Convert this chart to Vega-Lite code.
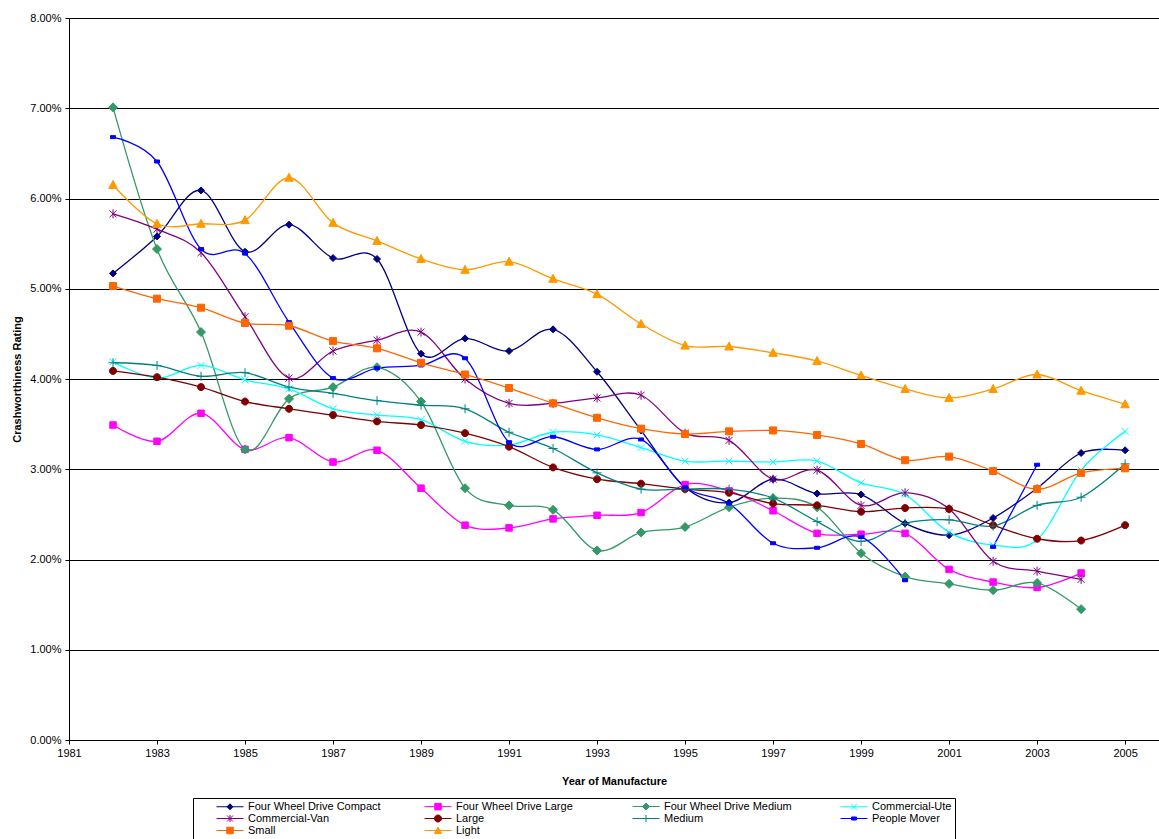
{
  "$schema": "https://vega.github.io/schema/vega-lite/v6.json",
  "width": 1090,
  "height": 722,
  "autosize": {"type": "none"},
  "padding": {"left": 69, "top": 18, "right": 0, "bottom": 99},
  "background": "white",
  "datasets": {
    "crash": [
      {"series":"Four Wheel Drive Compact","year":1982,"rating":0.0517},
      {"series":"Four Wheel Drive Compact","year":1983,"rating":0.0558},
      {"series":"Four Wheel Drive Compact","year":1984,"rating":0.0609},
      {"series":"Four Wheel Drive Compact","year":1985,"rating":0.0541},
      {"series":"Four Wheel Drive Compact","year":1986,"rating":0.0571},
      {"series":"Four Wheel Drive Compact","year":1987,"rating":0.0534},
      {"series":"Four Wheel Drive Compact","year":1988,"rating":0.0533},
      {"series":"Four Wheel Drive Compact","year":1989,"rating":0.0428},
      {"series":"Four Wheel Drive Compact","year":1990,"rating":0.0445},
      {"series":"Four Wheel Drive Compact","year":1991,"rating":0.0431},
      {"series":"Four Wheel Drive Compact","year":1992,"rating":0.0455},
      {"series":"Four Wheel Drive Compact","year":1993,"rating":0.0408},
      {"series":"Four Wheel Drive Compact","year":1994,"rating":0.0343},
      {"series":"Four Wheel Drive Compact","year":1995,"rating":0.0280},
      {"series":"Four Wheel Drive Compact","year":1996,"rating":0.0263},
      {"series":"Four Wheel Drive Compact","year":1997,"rating":0.0289},
      {"series":"Four Wheel Drive Compact","year":1998,"rating":0.0273},
      {"series":"Four Wheel Drive Compact","year":1999,"rating":0.0272},
      {"series":"Four Wheel Drive Compact","year":2000,"rating":0.0240},
      {"series":"Four Wheel Drive Compact","year":2001,"rating":0.0227},
      {"series":"Four Wheel Drive Compact","year":2002,"rating":0.0246},
      {"series":"Four Wheel Drive Compact","year":2003,"rating":0.0279},
      {"series":"Four Wheel Drive Compact","year":2004,"rating":0.0318},
      {"series":"Four Wheel Drive Compact","year":2005,"rating":0.0321},

      {"series":"Four Wheel Drive Large","year":1982,"rating":0.0349},
      {"series":"Four Wheel Drive Large","year":1983,"rating":0.0331},
      {"series":"Four Wheel Drive Large","year":1984,"rating":0.0362},
      {"series":"Four Wheel Drive Large","year":1985,"rating":0.0322},
      {"series":"Four Wheel Drive Large","year":1986,"rating":0.0335},
      {"series":"Four Wheel Drive Large","year":1987,"rating":0.0308},
      {"series":"Four Wheel Drive Large","year":1988,"rating":0.0321},
      {"series":"Four Wheel Drive Large","year":1989,"rating":0.0279},
      {"series":"Four Wheel Drive Large","year":1990,"rating":0.0238},
      {"series":"Four Wheel Drive Large","year":1991,"rating":0.0235},
      {"series":"Four Wheel Drive Large","year":1992,"rating":0.0245},
      {"series":"Four Wheel Drive Large","year":1993,"rating":0.0249},
      {"series":"Four Wheel Drive Large","year":1994,"rating":0.0252},
      {"series":"Four Wheel Drive Large","year":1995,"rating":0.0283},
      {"series":"Four Wheel Drive Large","year":1996,"rating":0.0276},
      {"series":"Four Wheel Drive Large","year":1997,"rating":0.0254},
      {"series":"Four Wheel Drive Large","year":1998,"rating":0.0229},
      {"series":"Four Wheel Drive Large","year":1999,"rating":0.0228},
      {"series":"Four Wheel Drive Large","year":2000,"rating":0.0229},
      {"series":"Four Wheel Drive Large","year":2001,"rating":0.0189},
      {"series":"Four Wheel Drive Large","year":2002,"rating":0.0175},
      {"series":"Four Wheel Drive Large","year":2003,"rating":0.0169},
      {"series":"Four Wheel Drive Large","year":2004,"rating":0.0185},

      {"series":"Four Wheel Drive Medium","year":1982,"rating":0.0701},
      {"series":"Four Wheel Drive Medium","year":1983,"rating":0.0544},
      {"series":"Four Wheel Drive Medium","year":1984,"rating":0.0452},
      {"series":"Four Wheel Drive Medium","year":1985,"rating":0.0322},
      {"series":"Four Wheel Drive Medium","year":1986,"rating":0.0378},
      {"series":"Four Wheel Drive Medium","year":1987,"rating":0.0391},
      {"series":"Four Wheel Drive Medium","year":1988,"rating":0.0413},
      {"series":"Four Wheel Drive Medium","year":1989,"rating":0.0375},
      {"series":"Four Wheel Drive Medium","year":1990,"rating":0.0279},
      {"series":"Four Wheel Drive Medium","year":1991,"rating":0.0260},
      {"series":"Four Wheel Drive Medium","year":1992,"rating":0.0255},
      {"series":"Four Wheel Drive Medium","year":1993,"rating":0.0210},
      {"series":"Four Wheel Drive Medium","year":1994,"rating":0.0230},
      {"series":"Four Wheel Drive Medium","year":1995,"rating":0.0236},
      {"series":"Four Wheel Drive Medium","year":1996,"rating":0.0258},
      {"series":"Four Wheel Drive Medium","year":1997,"rating":0.0268},
      {"series":"Four Wheel Drive Medium","year":1998,"rating":0.0258},
      {"series":"Four Wheel Drive Medium","year":1999,"rating":0.0207},
      {"series":"Four Wheel Drive Medium","year":2000,"rating":0.0181},
      {"series":"Four Wheel Drive Medium","year":2001,"rating":0.0173},
      {"series":"Four Wheel Drive Medium","year":2002,"rating":0.0166},
      {"series":"Four Wheel Drive Medium","year":2003,"rating":0.0174},
      {"series":"Four Wheel Drive Medium","year":2004,"rating":0.0145},

      {"series":"Commercial-Ute","year":1982,"rating":0.0419},
      {"series":"Commercial-Ute","year":1983,"rating":0.0401},
      {"series":"Commercial-Ute","year":1984,"rating":0.0415},
      {"series":"Commercial-Ute","year":1985,"rating":0.0399},
      {"series":"Commercial-Ute","year":1986,"rating":0.0389},
      {"series":"Commercial-Ute","year":1987,"rating":0.0367},
      {"series":"Commercial-Ute","year":1988,"rating":0.0360},
      {"series":"Commercial-Ute","year":1989,"rating":0.0355},
      {"series":"Commercial-Ute","year":1990,"rating":0.0331},
      {"series":"Commercial-Ute","year":1991,"rating":0.0327},
      {"series":"Commercial-Ute","year":1992,"rating":0.0341},
      {"series":"Commercial-Ute","year":1993,"rating":0.0338},
      {"series":"Commercial-Ute","year":1994,"rating":0.0324},
      {"series":"Commercial-Ute","year":1995,"rating":0.0309},
      {"series":"Commercial-Ute","year":1996,"rating":0.0309},
      {"series":"Commercial-Ute","year":1997,"rating":0.0308},
      {"series":"Commercial-Ute","year":1998,"rating":0.0309},
      {"series":"Commercial-Ute","year":1999,"rating":0.0285},
      {"series":"Commercial-Ute","year":2000,"rating":0.0272},
      {"series":"Commercial-Ute","year":2001,"rating":0.0230},
      {"series":"Commercial-Ute","year":2002,"rating":0.0216},
      {"series":"Commercial-Ute","year":2003,"rating":0.0222},
      {"series":"Commercial-Ute","year":2004,"rating":0.0299},
      {"series":"Commercial-Ute","year":2005,"rating":0.0342},

      {"series":"Commercial-Van","year":1982,"rating":0.0583},
      {"series":"Commercial-Van","year":1983,"rating":0.0566},
      {"series":"Commercial-Van","year":1984,"rating":0.0540},
      {"series":"Commercial-Van","year":1985,"rating":0.0469},
      {"series":"Commercial-Van","year":1986,"rating":0.0401},
      {"series":"Commercial-Van","year":1987,"rating":0.0431},
      {"series":"Commercial-Van","year":1988,"rating":0.0443},
      {"series":"Commercial-Van","year":1989,"rating":0.0452},
      {"series":"Commercial-Van","year":1990,"rating":0.0400},
      {"series":"Commercial-Van","year":1991,"rating":0.0373},
      {"series":"Commercial-Van","year":1992,"rating":0.0373},
      {"series":"Commercial-Van","year":1993,"rating":0.0379},
      {"series":"Commercial-Van","year":1994,"rating":0.0382},
      {"series":"Commercial-Van","year":1995,"rating":0.0340},
      {"series":"Commercial-Van","year":1996,"rating":0.0332},
      {"series":"Commercial-Van","year":1997,"rating":0.0289},
      {"series":"Commercial-Van","year":1998,"rating":0.0299},
      {"series":"Commercial-Van","year":1999,"rating":0.0260},
      {"series":"Commercial-Van","year":2000,"rating":0.0274},
      {"series":"Commercial-Van","year":2001,"rating":0.0256},
      {"series":"Commercial-Van","year":2002,"rating":0.0198},
      {"series":"Commercial-Van","year":2003,"rating":0.0187},
      {"series":"Commercial-Van","year":2004,"rating":0.0178},

      {"series":"Large","year":1982,"rating":0.0409},
      {"series":"Large","year":1983,"rating":0.0402},
      {"series":"Large","year":1984,"rating":0.0391},
      {"series":"Large","year":1985,"rating":0.0375},
      {"series":"Large","year":1986,"rating":0.0367},
      {"series":"Large","year":1987,"rating":0.0360},
      {"series":"Large","year":1988,"rating":0.0353},
      {"series":"Large","year":1989,"rating":0.0349},
      {"series":"Large","year":1990,"rating":0.0340},
      {"series":"Large","year":1991,"rating":0.0325},
      {"series":"Large","year":1992,"rating":0.0302},
      {"series":"Large","year":1993,"rating":0.0289},
      {"series":"Large","year":1994,"rating":0.0284},
      {"series":"Large","year":1995,"rating":0.0278},
      {"series":"Large","year":1996,"rating":0.0274},
      {"series":"Large","year":1997,"rating":0.0262},
      {"series":"Large","year":1998,"rating":0.0260},
      {"series":"Large","year":1999,"rating":0.0253},
      {"series":"Large","year":2000,"rating":0.0257},
      {"series":"Large","year":2001,"rating":0.0256},
      {"series":"Large","year":2002,"rating":0.0238},
      {"series":"Large","year":2003,"rating":0.0223},
      {"series":"Large","year":2004,"rating":0.0221},
      {"series":"Large","year":2005,"rating":0.0238},

      {"series":"Medium","year":1982,"rating":0.0418},
      {"series":"Medium","year":1983,"rating":0.0415},
      {"series":"Medium","year":1984,"rating":0.0403},
      {"series":"Medium","year":1985,"rating":0.0407},
      {"series":"Medium","year":1986,"rating":0.0391},
      {"series":"Medium","year":1987,"rating":0.0384},
      {"series":"Medium","year":1988,"rating":0.0376},
      {"series":"Medium","year":1989,"rating":0.0371},
      {"series":"Medium","year":1990,"rating":0.0367},
      {"series":"Medium","year":1991,"rating":0.0341},
      {"series":"Medium","year":1992,"rating":0.0323},
      {"series":"Medium","year":1993,"rating":0.0296},
      {"series":"Medium","year":1994,"rating":0.0278},
      {"series":"Medium","year":1995,"rating":0.0278},
      {"series":"Medium","year":1996,"rating":0.0278},
      {"series":"Medium","year":1997,"rating":0.0268},
      {"series":"Medium","year":1998,"rating":0.0242},
      {"series":"Medium","year":1999,"rating":0.0220},
      {"series":"Medium","year":2000,"rating":0.0240},
      {"series":"Medium","year":2001,"rating":0.0244},
      {"series":"Medium","year":2002,"rating":0.0237},
      {"series":"Medium","year":2003,"rating":0.0260},
      {"series":"Medium","year":2004,"rating":0.0269},
      {"series":"Medium","year":2005,"rating":0.0306},

      {"series":"People Mover","year":1982,"rating":0.0668},
      {"series":"People Mover","year":1983,"rating":0.0641},
      {"series":"People Mover","year":1984,"rating":0.0544},
      {"series":"People Mover","year":1985,"rating":0.0539},
      {"series":"People Mover","year":1986,"rating":0.0463},
      {"series":"People Mover","year":1987,"rating":0.0401},
      {"series":"People Mover","year":1988,"rating":0.0412},
      {"series":"People Mover","year":1989,"rating":0.0415},
      {"series":"People Mover","year":1990,"rating":0.0423},
      {"series":"People Mover","year":1991,"rating":0.0330},
      {"series":"People Mover","year":1992,"rating":0.0336},
      {"series":"People Mover","year":1993,"rating":0.0322},
      {"series":"People Mover","year":1994,"rating":0.0333},
      {"series":"People Mover","year":1995,"rating":0.0280},
      {"series":"People Mover","year":1996,"rating":0.0262},
      {"series":"People Mover","year":1997,"rating":0.0218},
      {"series":"People Mover","year":1998,"rating":0.0213},
      {"series":"People Mover","year":1999,"rating":0.0225},
      {"series":"People Mover","year":2000,"rating":0.0177},
      {"series":"People Mover","year":2001,"rating":null},
      {"series":"People Mover","year":2002,"rating":0.0214},
      {"series":"People Mover","year":2003,"rating":0.0305},

      {"series":"Small","year":1982,"rating":0.0503},
      {"series":"Small","year":1983,"rating":0.0489},
      {"series":"Small","year":1984,"rating":0.0479},
      {"series":"Small","year":1985,"rating":0.0462},
      {"series":"Small","year":1986,"rating":0.0459},
      {"series":"Small","year":1987,"rating":0.0442},
      {"series":"Small","year":1988,"rating":0.0434},
      {"series":"Small","year":1989,"rating":0.0418},
      {"series":"Small","year":1990,"rating":0.0405},
      {"series":"Small","year":1991,"rating":0.0390},
      {"series":"Small","year":1992,"rating":0.0373},
      {"series":"Small","year":1993,"rating":0.0357},
      {"series":"Small","year":1994,"rating":0.0345},
      {"series":"Small","year":1995,"rating":0.0339},
      {"series":"Small","year":1996,"rating":0.0342},
      {"series":"Small","year":1997,"rating":0.0343},
      {"series":"Small","year":1998,"rating":0.0338},
      {"series":"Small","year":1999,"rating":0.0328},
      {"series":"Small","year":2000,"rating":0.0310},
      {"series":"Small","year":2001,"rating":0.0314},
      {"series":"Small","year":2002,"rating":0.0298},
      {"series":"Small","year":2003,"rating":0.0278},
      {"series":"Small","year":2004,"rating":0.0296},
      {"series":"Small","year":2005,"rating":0.0301},

      {"series":"Light","year":1982,"rating":0.0615},
      {"series":"Light","year":1983,"rating":0.0572},
      {"series":"Light","year":1984,"rating":0.0572},
      {"series":"Light","year":1985,"rating":0.0576},
      {"series":"Light","year":1986,"rating":0.0623},
      {"series":"Light","year":1987,"rating":0.0573},
      {"series":"Light","year":1988,"rating":0.0553},
      {"series":"Light","year":1989,"rating":0.0533},
      {"series":"Light","year":1990,"rating":0.0521},
      {"series":"Light","year":1991,"rating":0.0530},
      {"series":"Light","year":1992,"rating":0.0511},
      {"series":"Light","year":1993,"rating":0.0494},
      {"series":"Light","year":1994,"rating":0.0461},
      {"series":"Light","year":1995,"rating":0.0437},
      {"series":"Light","year":1996,"rating":0.0436},
      {"series":"Light","year":1997,"rating":0.0429},
      {"series":"Light","year":1998,"rating":0.0420},
      {"series":"Light","year":1999,"rating":0.0404},
      {"series":"Light","year":2000,"rating":0.0389},
      {"series":"Light","year":2001,"rating":0.0379},
      {"series":"Light","year":2002,"rating":0.0389},
      {"series":"Light","year":2003,"rating":0.0405},
      {"series":"Light","year":2004,"rating":0.0387},
      {"series":"Light","year":2005,"rating":0.0372}
    ]
  },
  "data": {"name": "crash"},
  "encoding": {
    "x": {
      "field": "year", "type": "quantitative",
      "scale": {"domain": [1981, 2005.77], "nice": false, "zero": false},
      "axis": {
        "title": "Year of Manufacture",
        "values": [1981,1983,1985,1987,1989,1991,1993,1995,1997,1999,2001,2003,2005],
        "format": "d", "grid": false, "labelFlush": false, "labelOverlap": false,
        "labelPadding": 3, "titlePadding": 17
      }
    },
    "y": {
      "field": "rating", "type": "quantitative",
      "scale": {"domain": [0, 0.08], "nice": false},
      "axis": {
        "title": "Crashworthiness Rating",
        "values": [0,0.01,0.02,0.03,0.04,0.05,0.06,0.07,0.08],
        "format": ".2%", "grid": true, "labelFlush": false, "labelOverlap": false,
        "labelPadding": 4, "titlePadding": 7
      }
    }
  },
  "resolve": {"scale": {"color": "independent", "stroke": "independent", "shape": "independent"}},
  "layer": [
    {
      "mark": {"type": "line", "interpolate": "cardinal", "strokeWidth": 1.3, "invalid": "break-paths-show-domains"},
      "encoding": {
        "color": {
          "field": "series", "type": "nominal",
          "scale": {
            "domain": ["Four Wheel Drive Compact","Four Wheel Drive Large","Four Wheel Drive Medium","Commercial-Ute","Commercial-Van","Large","Medium","People Mover","Small","Light"],
            "range": ["#000080","#FF00FF","#339966","#00FFFF","#800080","#800000","#008080","#0000FF","#FF6600","#FF9900"]
          },
          "legend": null
        }
      }
    },
    {
      "mark": {"type": "point", "filled": true, "size": 100, "opacity": 1, "strokeWidth": 1},
      "encoding": {
        "color": {
          "field": "series", "type": "nominal",
          "scale": {
            "domain": ["Four Wheel Drive Compact","Four Wheel Drive Large","Four Wheel Drive Medium","Commercial-Ute","Commercial-Van","Large","Medium","People Mover","Small","Light"],
            "range": ["#000080","#FF00FF","#339966","#00FFFF","#800080","#800000","#008080","#0000FF","#FF6600","#FF9900"]
          },
          "legend": null
        },
        "stroke": {
          "field": "series", "type": "nominal",
          "scale": {
            "domain": ["Four Wheel Drive Compact","Four Wheel Drive Large","Four Wheel Drive Medium","Commercial-Ute","Commercial-Van","Large","Medium","People Mover","Small","Light"],
            "range": ["#000080","#FF00FF","#339966","#00FFFF","#800080","#800000","#008080","#0000FF","#FF6600","#FF9900"]
          },
          "legend": null
        },
        "shape": {
          "field": "series", "type": "nominal",
          "scale": {
            "domain": ["Four Wheel Drive Compact","Four Wheel Drive Large","Four Wheel Drive Medium","Commercial-Ute","Commercial-Van","Large","Medium","People Mover","Small","Light"],
            "range": [
              "M0,-0.7L0.7,0L0,0.7L-0.7,0Z",
              "M-0.65,-0.65L0.65,-0.65L0.65,0.65L-0.65,0.65Z",
              "M0,-0.9L0.9,0L0,0.9L-0.9,0Z",
              "M-0.7,-0.7L0.7,0.7M-0.7,0.7L0.7,-0.7",
              "M-0.7,-0.7L0.7,0.7M-0.7,0.7L0.7,-0.7M0,-0.9L0,0.9",
              "M-0.7,0A0.7,0.7 0 1,0 0.7,0A0.7,0.7 0 1,0 -0.7,0Z",
              "M-0.9,0L0.9,0M0,-0.9L0,0.9",
              "M-0.5,-0.3L0.5,-0.3L0.5,0.3L-0.5,0.3Z",
              "M-0.7,-0.7L0.7,-0.7L0.7,0.7L-0.7,0.7Z",
              "M0,-0.9L0.85,0.7L-0.85,0.7Z"
            ]
          },
          "legend": null
        }
      }
    },
    {
      "transform": [{"filter": "false"}],
      "mark": {"type": "point", "filled": true, "size": 100, "opacity": 1, "strokeWidth": 1},
      "encoding": {
        "color": {
          "field": "series", "type": "nominal",
          "scale": {
            "domain": ["Four Wheel Drive Compact","Four Wheel Drive Large","Four Wheel Drive Medium","Commercial-Ute","Commercial-Van","Large","Medium","People Mover","Small","Light"],
            "range": ["#000080","#FF00FF","#339966","#00FFFF","#800080","#800000","#008080","#0000FF","#FF6600","#FF9900"]
          },
          "legend": {"title": null, "orient": "none", "legendX": 124, "legendY": 780, "columns": 4, "direction": "horizontal"}
        },
        "stroke": {
          "field": "series", "type": "nominal",
          "scale": {
            "domain": ["Four Wheel Drive Compact","Four Wheel Drive Large","Four Wheel Drive Medium","Commercial-Ute","Commercial-Van","Large","Medium","People Mover","Small","Light"],
            "range": ["#000080","#FF00FF","#339966","#00FFFF","#800080","#800000","#008080","#0000FF","#FF6600","#FF9900"]
          },
          "legend": {"title": null, "orient": "none", "legendX": 124, "legendY": 780, "columns": 4, "direction": "horizontal"}
        },
        "shape": {
          "field": "series", "type": "nominal",
          "scale": {
            "domain": ["Four Wheel Drive Compact","Four Wheel Drive Large","Four Wheel Drive Medium","Commercial-Ute","Commercial-Van","Large","Medium","People Mover","Small","Light"],
            "range": [
              "M3,0L8.4,0M5.7,-0.6L6.3,0L5.7,0.6L5.1,0Z",
              "M3,0L8.4,0M5.05,-0.65L6.35,-0.65L6.35,0.65L5.05,0.65Z",
              "M3,0L8.4,0M5.7,-0.7L6.4,0L5.7,0.7L5,0Z",
              "M3,0L8.4,0M5.1,-0.6L6.3,0.6M5.1,0.6L6.3,-0.6",
              "M3,0L8.4,0M5.1,-0.6L6.3,0.6M5.1,0.6L6.3,-0.6M5.7,-0.7L5.7,0.7",
              "M3,0L8.4,0M5,0A0.7,0.7 0 1,0 6.4,0A0.7,0.7 0 1,0 5,0Z",
              "M3,0L8.4,0M5,0L6.4,0M5.7,-0.7L5.7,0.7",
              "M3,0L8.4,0M5.2,-0.3L6.2,-0.3L6.2,0.3L5.2,0.3Z",
              "M3,0L8.4,0M5.05,-0.65L6.35,-0.65L6.35,0.65L5.05,0.65Z",
              "M3,0L8.4,0M5.7,-0.7L6.4,0.6L5,0.6Z"
            ]
          },
          "legend": {"title": null, "orient": "none", "legendX": 124, "legendY": 780, "columns": 4, "direction": "horizontal"}
        }
      }
    }
  ],
  "config": {
    "font": "Liberation Sans",
    "view": {"stroke": null},
    "axis": {
      "labelFont": "Liberation Sans", "labelFontSize": 11, "labelColor": "#000",
      "titleFont": "Liberation Sans", "titleFontSize": 11, "titleColor": "#000", "titleFontWeight": "bold",
      "domainColor": "#000", "domainWidth": 1, "tickColor": "#000", "tickSize": 4, "tickWidth": 1,
      "gridColor": "#000", "gridOpacity": 1, "gridWidth": 1
    },
    "legend": {
      "orient": "none", "legendX": 124, "legendY": 780, "direction": "horizontal",
      "columns": 4, "gridAlign": "all", "columnPadding": 23, "rowPadding": 0,
      "symbolSize": 100, "symbolStrokeWidth": 1, "labelOffset": 41,
      "padding": 3, "strokeColor": "#000",
      "labelFont": "Liberation Sans", "labelFontSize": 11, "labelColor": "#000", "labelLimit": 200
    }
  }
}
